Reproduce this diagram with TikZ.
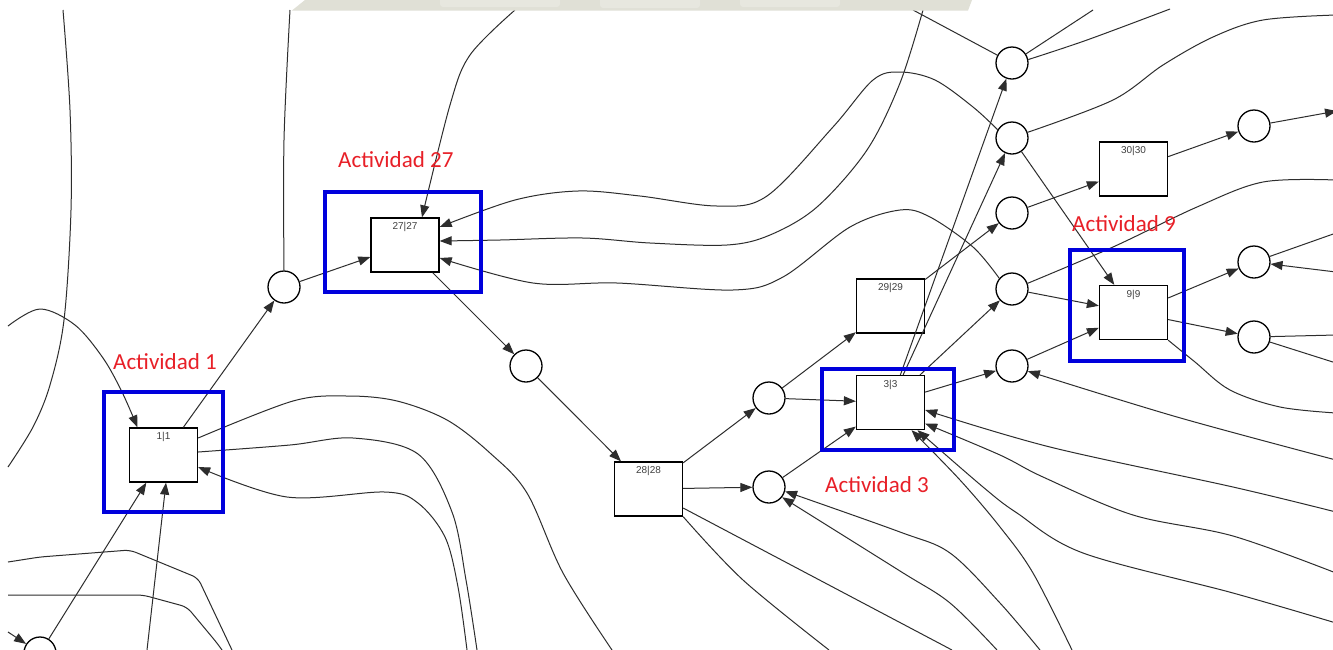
\documentclass[tikz,border=0pt]{standalone}
\usepackage{fontspec}
\setmainfont{Liberation Sans}
\newfontfamily\actfont{Carlito}
\usetikzlibrary{arrows.meta}

\definecolor{frameblue}{RGB}{0,0,220}
\definecolor{labelred}{RGB}{232,32,40}
\definecolor{edgegray}{RGB}{45,45,45}
\definecolor{bandgray}{RGB}{224,224,214}
\definecolor{bandlight}{RGB}{231,231,223}

\begin{document}
\begin{tikzpicture}[x=1pt,y=-1pt,
  tbox/.style={draw=black, line width=1.3pt, minimum width=68pt, minimum height=54pt, inner sep=0pt},
  pl/.style={circle, draw=black, line width=1.3pt, minimum size=32pt, inner sep=0pt},
  numtxt/.style={font=\fontsize{10}{12}\selectfont, text=black!75, inner sep=0pt},
  link/.style={draw=edgegray, line width=1pt},
  linkto/.style={link, -{Triangle[length=12pt,width=9pt]}},
  hilite/.style={draw=frameblue, line width=4pt},
  actlbl/.style={font=\actfont\fontsize{23}{27}\selectfont, text=labelred, inner sep=0pt, anchor=base west},
  curvy/.style={smooth, tension=0.55}
]
\useasboundingbox (0,0) rectangle (1333,649);
\fill[white] (0,0) rectangle (1333,649);

% transitions
\node[tbox] (b1)  at (163.5,455)   {};
\node[tbox] (b27) at (405,245)     {};
\node[tbox] (b28) at (648.5,489)   {};
\node[tbox] (b29) at (890.5,306)   {};
\node[tbox] (b3)  at (890.5,402.5) {};
\node[tbox] (b30) at (1133.5,169)  {};
\node[tbox] (b9)  at (1133.5,312.5){};
\node[numtxt] at ([yshift=-10pt]b1.north)  {1|1};
\node[numtxt] at ([yshift=-10pt]b27.north) {27|27};
\node[numtxt] at ([yshift=-10pt]b28.north) {28|28};
\node[numtxt] at ([yshift=-10pt]b29.north) {29|29};
\node[numtxt] at ([yshift=-10pt]b3.north)  {3|3};
\node[numtxt] at ([yshift=-10pt]b30.north) {30|30};
\node[numtxt] at ([yshift=-10pt]b9.north)  {9|9};

% places
\node[pl] (c284) at (284,287)  {};
\node[pl] (c526) at (526,366)  {};
\node[pl] (c769a) at (769,398) {};
\node[pl] (c769b) at (769,487) {};
\node[pl] (c63)  at (1012,63)  {};
\node[pl] (c138) at (1012,138) {};
\node[pl] (c213) at (1012,213) {};
\node[pl] (c289) at (1012,289) {};
\node[pl] (c366) at (1012,366) {};
\node[pl] (c126) at (1254,126) {};
\node[pl] (c262) at (1254,262) {};
\node[pl] (c337) at (1254,337) {};
\node[pl] (cbl)  at (40,653)   {};

% free ends at the border
\coordinate (t63)   at (63,10);
\coordinate (t290)  at (290,10);
\coordinate (t515)  at (515,10);
\coordinate (t913)  at (913,10);
\coordinate (t923)  at (923,10);
\coordinate (t1093) at (1093,10);
\coordinate (t1170) at (1170,9);
\coordinate (l326)  at (8,326);
\coordinate (l467)  at (8,467);
\coordinate (l562)  at (8,562);
\coordinate (l595)  at (8,595);
\coordinate (l632)  at (8,632);
\coordinate (d147)  at (147,650);
\coordinate (d222)  at (222,650);
\coordinate (d232)  at (232,650);
\coordinate (d467)  at (467,650);
\coordinate (d477)  at (477,650);
\coordinate (d612)  at (612,650);
\coordinate (d829)  at (829,650);
\coordinate (d952)  at (952,650);
\coordinate (d997)  at (997,650);
\coordinate (d1040) at (1040,650);
\coordinate (d1072) at (1072,650);
\coordinate (r15)   at (1336,15);
\coordinate (r111)  at (1337,111);
\coordinate (r180)  at (1336,180);
\coordinate (r233)  at (1336,233);
\coordinate (r272)  at (1336,272);
\coordinate (r335)  at (1336,335);
\coordinate (r363)  at (1336,363);
\coordinate (r413)  at (1336,413);
\coordinate (r460)  at (1336,460);
\coordinate (r512)  at (1336,512);
\coordinate (r573)  at (1336,573);
\coordinate (r623)  at (1336,623);

% left part
\draw[link] plot[curvy] coordinates {(t63) (70,110) (71,210) (64,320) (50,385) (33,427) (l467)};
\draw[linkto] plot[curvy] coordinates {(l326) (40,309) (75,325) (103,358) (122,392) ([xshift=-26pt]b1.north)};
\draw[link] plot[curvy] coordinates {(t290) (284,140) (c284.north)};
\draw[linkto] (b1) -- (c284);
\draw[linkto] (c284) -- (b27);
\draw[linkto] (cbl) -- (b1);
\draw[linkto] (d147) -- ([xshift=2.5pt]b1.south);
\draw[linkto] (l632) -- (cbl);
\draw[link, rounded corners=6pt] (l562) -- (40,557) -- (130,550) -- (198,578) -- (d232);
\draw[link, rounded corners=6pt] (l595) -- (143,595) -- (187,607) -- (217,643) -- (d222);
\draw[link] plot[curvy] coordinates {([yshift=17pt]b1.east) (293,401) (348,396) (397,401) (447,420) (490,453) (527,493) (563,573) (d612)};
\draw[link] plot[curvy] coordinates {([yshift=3pt]b1.east) (290,445) (353,438) (418,454) (452,512) (466,580) (d477)};
\draw[linkto] plot[curvy] coordinates {(d467) (458,587) (445,537) (418,503) (385,492) (287,497) ([yshift=-12pt]b1.east)};

% around 27|27
\draw[linkto] plot[curvy] coordinates {(t515) (470,55) (450,105) ([xshift=17pt]b27.north)};
\draw[linkto] plot[curvy] coordinates {(c138.150) (973,107) (935,80) (900,72) (873,80) (833,127) (767,196) (717,206) (640,196) (578,191) (515,200) ([yshift=18pt]b27.east)};
\draw[linkto] plot[curvy] coordinates {(t923) (900,83) (867,150) (817,207) (770,235) (727,245) (650,243) (583,238) (500,240) ([yshift=4pt]b27.east)};
\draw[linkto] plot[curvy] coordinates {(c289.140) (973,247) (930,217) (900,210) (850,227) (783,277) (733,290) (617,283) (533,283) ([yshift=-13pt]b27.east)};
\draw[linkto] (b27) -- (c526);
\draw[linkto] (c526) -- (b28);

% 28|28 and 3|3
\draw[linkto] (b28) -- (c769a);
\draw[linkto] (b28) -- (c769b);
\draw[link] ([yshift=-19pt]b28.east) -- (d952);
\draw[link] plot[curvy] coordinates {(b28.south east) (743,580) (d829)};
\draw[linkto] (c769a) -- (b29);
\draw[linkto] (c769a) -- (b3);
\draw[linkto] (c769b) -- (b3);
\draw[linkto] plot[curvy] coordinates {(d1040) (1000,603) (950,553) (900,532) (c769b.-15)};
\draw[linkto] plot[curvy] coordinates {(d997) (950,603) (900,571) (c769b.-38)};
\draw[linkto] (b3) -- (c63);
\draw[linkto] (b3) -- (c138);
\draw[linkto] (b3) -- (c289);
\draw[linkto] (b3) -- (c366);
\draw[linkto] (b29) -- (c213);
\draw[linkto] plot[curvy] coordinates {(r512) (1233,487) (1050,447) ([yshift=-7.5pt]b3.east)};
\draw[linkto] plot[curvy] coordinates {(r573) (1233,536) (1133,515) (1043,477) (1000,455) ([yshift=-21pt]b3.east)};
\draw[linkto] plot[curvy] coordinates {(r623) (1233,593) (1083,553) (1017,513) (983,487) ([xshift=27pt]b3.south)};
\draw[linkto] plot[curvy] coordinates {(d1072) (1033,573) (1000,527) (960,480) ([xshift=21pt]b3.south)};
\draw[linkto] plot[curvy] coordinates {(r460) (1177,417) (c366.-18)};

% right column
\draw[link] (t913) -- (c63);
\draw[link] (c63) -- (t1093);
\draw[link] plot[curvy] coordinates {(c63.12) (1087,40) (t1170)};
\draw[link] plot[curvy] coordinates {(c138.20) (1113,100) (1163,65) (1213,37) (1263,20) (r15)};
\draw[linkto] (c138) -- (b9);
\draw[linkto] (c213) -- (b30);
\draw[linkto] (c289) -- (b9);
\draw[link] plot[curvy] coordinates {(c289.20) (1113,247) (1197,207) (1263,182) (r180)};
\draw[linkto] (c366) -- (b9);
\draw[linkto] (b30) -- (c126);
\draw[linkto] (c126) -- (r111);
\draw[linkto] (b9) -- (c262);
\draw[linkto] (b9) -- (c337);
\draw[link] plot[curvy] coordinates {(b9.south east) (1195,362) (1230,390) (1280,407) (r413)};
\draw[link] (c262) -- (r233);
\draw[linkto] (r272) -- (c262);
\draw[link] (c337) -- (r335);
\draw[link] (c337) -- (r363);

% highlighted activities
\draw[hilite] (104,392) rectangle (223,512);
\draw[hilite] (325,192) rectangle (481,292);
\draw[hilite] (822,368.5) rectangle (953.5,449.5);
\draw[hilite] (1070,249.5) rectangle (1184,361);
\node[actlbl] (a1)  at (113,369)  {Actividad 1};
\node[actlbl] (a27) at (338,167)  {Actividad 27};
\node[actlbl] (a3)  at (825,492)  {Actividad 3};
\node[actlbl] (a9)  at (1072,231) {Actividad 9};

% faint band along the top edge
\fill[bandgray] (292,10.5) -- (305,0) -- (972,0) -- (968,10.5) -- cycle;
\fill[bandlight, rounded corners=3pt] (440,-3) rectangle (560,7);
\fill[bandlight, rounded corners=3pt] (600,-3) rectangle (700,8);
\fill[bandlight, rounded corners=3pt] (740,-3) rectangle (840,7);
\end{tikzpicture}
\end{document}
